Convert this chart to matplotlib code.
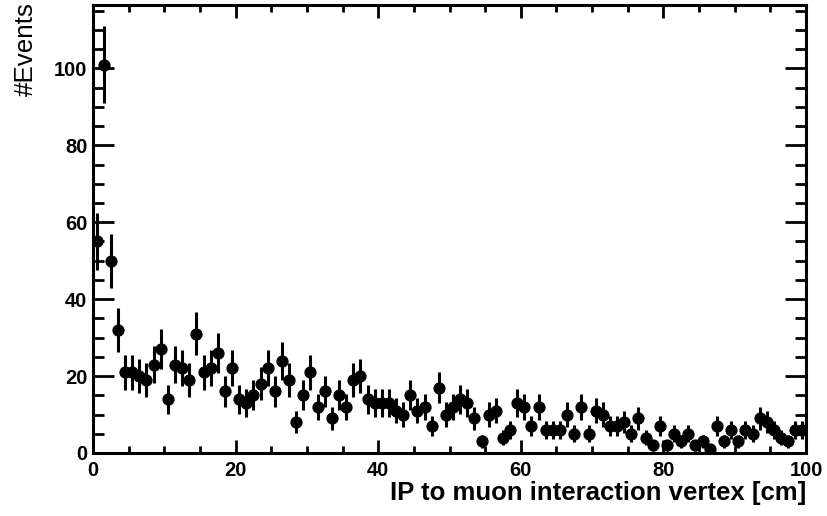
import numpy as np
import matplotlib
matplotlib.use("Agg")
import matplotlib.pyplot as plt
from matplotlib.ticker import MultipleLocator

# Histogram: 100 bins of 1 cm from 0 to 100
bin_edges_range = (0, 100)
n_bins = 100
counts = [55, 101, 50, 32, 21, 21, 20, 19, 23, 27,
          14, 23, 22, 19, 31, 21, 22, 26, 16, 22,
          14, 13, 15, 18, 22, 16, 24, 19, 8, 15,
          21, 12, 16, 9, 15, 12, 19, 20, 14, 13,
          13, 13, 11, 10, 15, 11, 12, 7, 17, 10,
          12, 14, 13, 9, 3, 10, 11, 4, 6, 13,
          12, 7, 12, 6, 6, 6, 10, 5, 12, 5,
          11, 10, 7, 7, 8, 5, 9, 4, 2, 7,
          2, 5, 3, 5, 2, 3, 1, 7, 3, 6,
          3, 6, 5, 9, 8, 6, 4, 3, 6, 6]
x_ticks = [0, 20, 40, 60, 80, 100]
y_ticks = [0, 20, 40, 60, 80, 100]
x_label = "IP to muon interaction vertex [cm]"
y_label = "#Events"

plt.rcParams['font.family'] = ['Liberation Sans', 'DejaVu Sans']

fig = plt.figure(figsize=(8.27, 5.16), dpi=100)
W, H = 827, 516
ax = fig.add_axes([93 / W, 1 - 453 / H, (806 - 93) / W, (453 - 5) / H])

edges = np.linspace(bin_edges_range[0], bin_edges_range[1], n_bins + 1)
centers = 0.5 * (edges[:-1] + edges[1:])
y = np.array(counts, dtype=float)
err = np.sqrt(y)

ax.errorbar(centers, y, yerr=err, fmt='o', color='black', markersize=7.8,
            elinewidth=2.2, capsize=0, clip_on=True, zorder=3)

ax.set_xlim(0, 100)
ax.set_ylim(0, 116.5)
ax.set_xticks(x_ticks)
ax.set_yticks(y_ticks)
ax.xaxis.set_minor_locator(MultipleLocator(5))
ax.yaxis.set_minor_locator(MultipleLocator(5))

for s in ax.spines.values():
    s.set_linewidth(2.2)

ax.tick_params(axis='both', which='both', direction='in', top=True, right=True,
               width=2.0, labelsize=14.5)
ax.tick_params(axis='x', which='major', length=9.6, pad=6)
ax.tick_params(axis='x', which='minor', length=4.8)
ax.tick_params(axis='y', which='major', length=15.4, pad=4)
ax.tick_params(axis='y', which='minor', length=7.7)
for lab in ax.get_xticklabels() + ax.get_yticklabels():
    lab.set_fontweight('bold')

fig.text(806 / W, 1 - 481 / H, x_label, ha='right', va='top',
         fontsize=18.5, fontweight='bold')
fig.text(14 / W, 1 - 2 / H, y_label, ha='left', va='top', rotation=90,
         fontsize=18.7)

fig.savefig("out.png", dpi=100)
